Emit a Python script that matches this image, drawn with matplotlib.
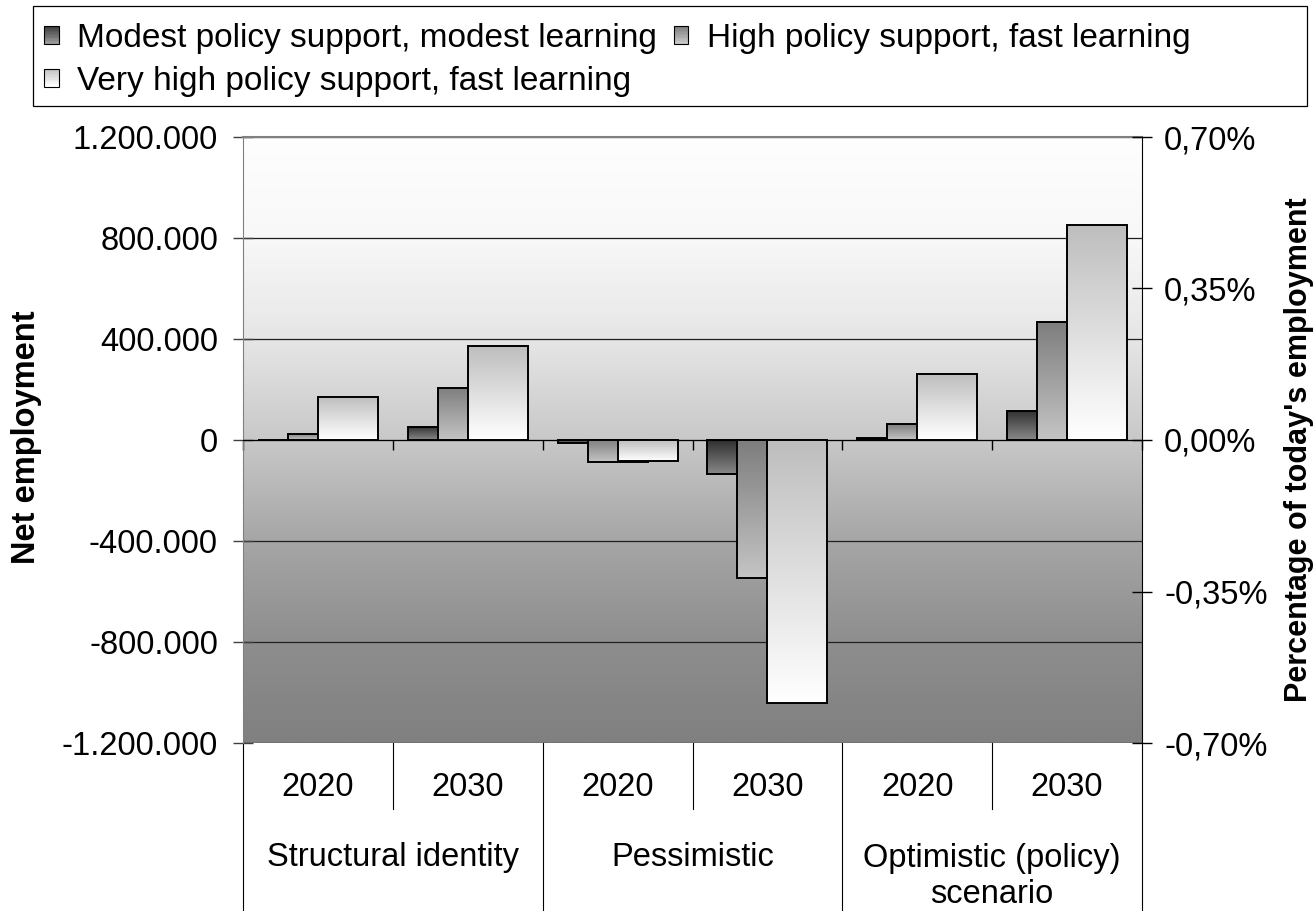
import numpy as np
import matplotlib
matplotlib.use("Agg")
import matplotlib.pyplot as plt
from matplotlib.patches import Rectangle
from matplotlib.legend_handler import HandlerBase
from matplotlib.ticker import FuncFormatter
import matplotlib.transforms as mtransforms

plt.rcParams['font.family'] = ['Liberation Sans', 'DejaVu Sans']

# data
years = ['2020', '2030', '2020', '2030', '2020', '2030']
groups = ['Structural identity', 'Pessimistic', 'Optimistic (policy)\nscenario']
series_names = ['Modest policy support, modest learning',
                'High policy support, fast learning',
                'Very high policy support, fast learning']
modest = [0, 52000, -11000, -134000, 6000, 116000]
high = [24000, 206000, -88000, -545000, 62000, 469000]
very_high = [172000, 371000, -83000, -1040000, 262000, 852000]
left_ticks = [-1200000, -800000, -400000, 0, 400000, 800000, 1200000]
right_ticks = [-0.70, -0.35, 0.0, 0.35, 0.70]

# gradient (top colour, bottom colour) per series
bar_grads = [('#303030', '#888888'), ('#7e7e7e', '#c4c4c4'), ('#bebebe', '#ffffff')]
offsets = [-0.2, 0.0, 0.2]
width = 0.4
fs = 23.5      # ticks and category labels
fs_leg = 24
fs_lab = 23.5

W, H = 1313, 911
fig = plt.figure(figsize=(W / 100, H / 100), dpi=100)
L, R, T, B = 243, 1142, 137, 743
ax = fig.add_axes([L / W, 1 - B / H, (R - L) / W, (B - T) / H])


def hex_rgb(c):
    c = c.lstrip('#')
    return np.array([int(c[i:i + 2], 16) for i in (0, 2, 4)]) / 255.0


def vgrad(top, bottom, n=64):
    t = np.linspace(0, 1, n)[:, None]
    col = hex_rgb(top) * (1 - t) + hex_rgb(bottom) * t
    return col[:, None, :]


ymin, ymax = -1200000, 1200000
ncat = len(years)

# background gradient (light at top, dark at bottom)
ys = np.linspace(ymax, ymin, 200)
lv = np.interp(ys, [-1200000, -800000, -400000, 0, 400000, 800000, 1200000],
               [128, 142, 166, 200, 230, 248, 254]) / 255.0
bg = np.repeat(lv[:, None, None], 3, axis=2)
ax.imshow(bg, extent=[0, ncat, ymin, ymax], aspect='auto', zorder=0,
          interpolation='bilinear')

x = np.arange(ncat) + 0.5
for k, vals in enumerate([modest, high, very_high]):
    z = 2 + k
    bars = ax.bar(x + offsets[k], vals, width=width, facecolor='none',
                  edgecolor='black', linewidth=1.4, zorder=z + 0.5)
    for xi, v, p in zip(x, vals, bars.patches):
        if v == 0:
            continue
        im = ax.imshow(vgrad(*bar_grads[k]),
                       extent=[xi + offsets[k] - width / 2, xi + offsets[k] + width / 2,
                               min(0, v), max(0, v)],
                       aspect='auto', zorder=z, interpolation='bilinear')
        im.set_clip_path(p)

ax.set_xlim(0, ncat)
ax.set_ylim(ymin, ymax)
ax.set_yticks(left_ticks)
ax.yaxis.set_major_formatter(FuncFormatter(lambda v, p: f"{int(v):,}".replace(',', '.')))
ax.tick_params(axis='y', direction='inout', length=14, width=1, labelsize=fs, pad=11,
               color='#404040')
ax.grid(axis='y', color='#202020', linewidth=0.9)
ax.set_axisbelow(True)

# category axis at zero with boundary ticks
ax.spines['bottom'].set_position(('data', 0))
ax.spines['bottom'].set_color('black')
ax.set_xticks(np.arange(ncat + 1))
ax.tick_params(axis='x', direction='out', length=7, width=1, labelbottom=False)
ax.spines['left'].set_color('#808080')
ax.spines['top'].set_color('#808080')
ax.spines['top'].set_linewidth(1.5)
ax.spines['right'].set_visible(False)

ax2 = ax.twinx()
ax2.set_ylim(-0.7, 0.7)
ax2.set_yticks(right_ticks)
ax2.yaxis.set_major_formatter(FuncFormatter(lambda v, p: f"{v:.2f}%".replace('.', ',')))
ax2.tick_params(axis='y', direction='inout', length=14, width=1, labelsize=fs, pad=9)
for s in ['left', 'top', 'bottom']:
    ax2.spines[s].set_visible(False)
ax2.spines['right'].set_color('black')

# multi-level category labels below the plot
trans = mtransforms.blended_transform_factory(ax.transData, ax.transAxes)
ph = B - T
for i in range(ncat):
    ax.text(x[i], -(788 - B) / ph, years[i], transform=trans, ha='center', va='center',
            fontsize=fs)
for i in range(ncat + 1):
    bottom = -(H - B) / ph if i % 2 == 0 else -(809 - B) / ph
    ax.plot([i, i], [0, bottom], transform=trans, color='black', lw=0.8, clip_on=False)
for g, name in enumerate(groups):
    # baseline alignment uses the last line, so shift multi-line labels down
    base = 866 + 37 * name.count('\n')
    ax.text(2 * g + 1, -(base - B) / ph, name, transform=trans, ha='center',
            va='baseline', fontsize=fs, linespacing=1.22)

fig.text(27 / W, 1 - 437 / H, 'Net employment', rotation=90, ha='center', va='center',
         fontsize=fs_lab, fontweight='bold')
fig.text(1299 / W, 1 - 450 / H, "Percentage of today's employment", rotation=90,
         ha='center', va='center', fontsize=22, fontweight='bold')


class GradHandler(HandlerBase):
    def __init__(self, top, bottom):
        super().__init__()
        self.top, self.bottom = top, bottom

    def create_artists(self, legend, orig_handle, xdescent, ydescent, width, height,
                       fontsize, trans):
        n = 12
        cols = vgrad(self.top, self.bottom, n)[:, 0, :]
        arts = []
        for j in range(n):
            y0 = -ydescent + height * (1 - (j + 1) / n)
            arts.append(Rectangle((-xdescent, y0), width, height / n, facecolor=cols[j],
                                  edgecolor='none', transform=trans))
        arts.append(Rectangle((-xdescent, -ydescent), width, height, fill=False,
                              edgecolor='black', lw=0.8, transform=trans))
        return arts


handles = [Rectangle((0, 0), 1, 1) for _ in range(3)]
legend_grads = [('#404040', '#9a9a9a'), ('#808080', '#c8c8c8'), ('#c4c4c4', '#ffffff')]
order = [0, 2, 1]
leg = fig.legend([handles[i] for i in order], [series_names[i] for i in order],
                 handler_map={handles[i]: GradHandler(*legend_grads[i]) for i in range(3)},
                 loc='upper left', bbox_to_anchor=(44 / W, 1 - 23 / H), ncol=2,
                 frameon=False, fontsize=fs_leg, handlelength=0.44, handleheight=0.42,
                 handletextpad=0.55, columnspacing=0.5, labelspacing=0.36, borderpad=0,
                 borderaxespad=0)
fig.patches.append(Rectangle((33 / W, 1 - 106 / H), (1307 - 33) / W, 100 / H,
                             transform=fig.transFigure, fill=False, edgecolor='black',
                             lw=0.9))

fig.savefig('out.png', dpi=100)
